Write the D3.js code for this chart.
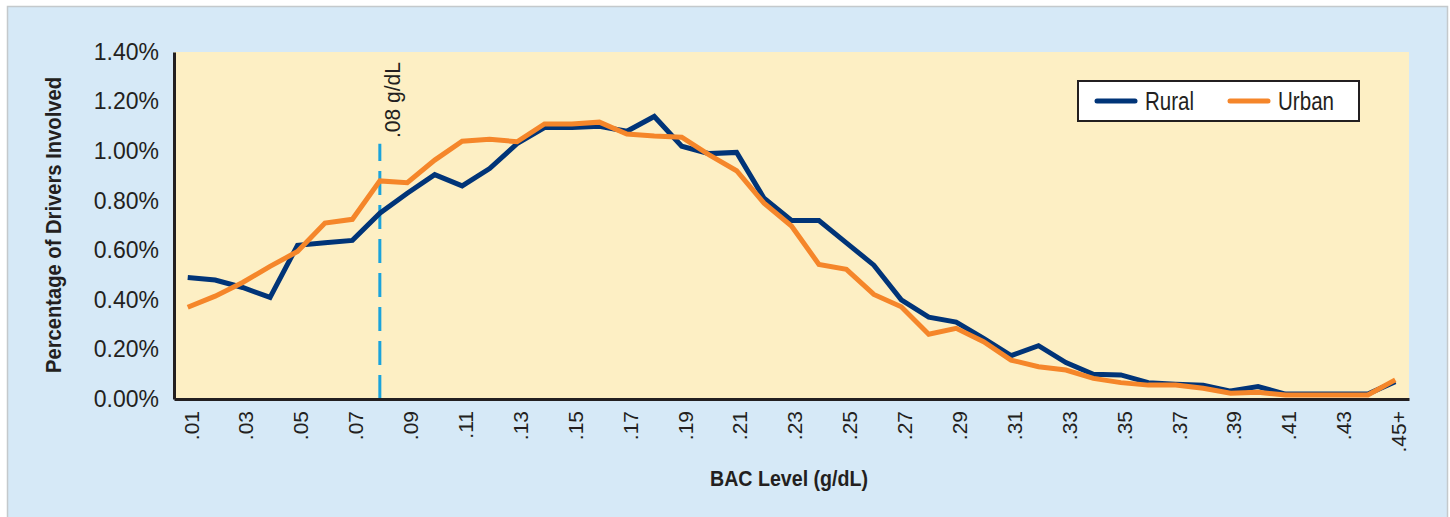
<!DOCTYPE html>
<html>
<head>
<meta charset="utf-8">
<script src="https://cdn.jsdelivr.net/npm/d3@7"></script>
<style>
  body { margin: 0; background: #ffffff; }
  svg { display: block; }
  text { font-family: "Liberation Sans Narrow", "Arial Narrow", "Liberation Sans", sans-serif; fill: #231f20; }
</style>
</head>
<body>
<svg width="1450" height="517"></svg>
<script>
// BAC levels (g/dL)
const categories = [".01",".02",".03",".04",".05",".06",".07",".08",".09",".10",
  ".11",".12",".13",".14",".15",".16",".17",".18",".19",".20",
  ".21",".22",".23",".24",".25",".26",".27",".28",".29",".30",
  ".31",".32",".33",".34",".35",".36",".37",".38",".39",".40",
  ".41",".42",".43",".44",".45+"]

// percentage of drivers involved
const rural = [0.49,0.48,0.45,0.41,0.62,0.63,0.64,0.75,0.83,0.905,
  0.86,0.93,1.03,1.095,1.095,1.10,1.08,1.14,1.02,0.99,
  0.995,0.81,0.72,0.72,0.63,0.54,0.40,0.33,0.31,0.245,
  0.175,0.215,0.147,0.10,0.097,0.066,0.06,0.056,0.032,0.05,
  0.02,0.02,0.02,0.02,0.07]
const urban = [0.37,0.415,0.47,0.535,0.595,0.71,0.725,0.88,0.873,0.964,
  1.04,1.048,1.038,1.11,1.11,1.117,1.069,1.061,1.056,0.985,
  0.921,0.79,0.698,0.543,0.523,0.422,0.372,0.261,0.285,0.231,
  0.157,0.13,0.117,0.083,0.066,0.056,0.056,0.043,0.023,0.027,
  0.016,0.016,0.016,0.016,0.077]

const xTickLabels = [".01",".03",".05",".07",".09",".11",".13",".15",".17",".19",
  ".21",".23",".25",".27",".29",".31",".33",".35",".37",".39",".41",".43",".45+"]
const yTicks = [0, 0.2, 0.4, 0.6, 0.8, 1.0, 1.2, 1.4]
const series = [
  {name: "Rural", values: rural, color: "#003478"},
  {name: "Urban", values: urban, color: "#f5862a"}
]
const limit = ".08"

let svg = d3.select("svg")

// outer panel
svg.append("rect")
  .attr("x", 7.5).attr("y", 6.5)
  .attr("width", 1440).attr("height", 520)
  .attr("fill", "#d6e9f7")
  .attr("stroke", "#c4c9cc")
  .attr("stroke-width", 1.5)

let plotLeft = 174, plotRight = 1409, plotTop = 52, plotBottom = 399

let x = d3.scalePoint().domain(categories).range([plotLeft, plotRight]).padding(0.5)
let y = d3.scaleLinear().domain([0, 1.4]).range([plotBottom, plotTop])

// plot background
svg.append("rect")
  .attr("x", plotLeft).attr("y", plotTop)
  .attr("width", plotRight - plotLeft).attr("height", plotBottom - plotTop)
  .attr("fill", "#fdefc4")

// .08 limit line
svg.append("line")
  .attr("x1", x(limit)).attr("x2", x(limit))
  .attr("y1", y(0)).attr("y2", y(1.03))
  .attr("stroke", "#1aa3dc")
  .attr("stroke-width", 3)
  .attr("stroke-dasharray", "24,10")

svg.append("text")
  .attr("transform", `translate(${x(limit) + 20},${plotTop + 10}) rotate(-90)`)
  .attr("text-anchor", "end")
  .style("font-size", "22px")
  .attr("textLength", 76)
  .attr("lengthAdjust", "spacingAndGlyphs")
  .text(".08 g/dL")

// lines
let line = d3.line()
  .x((d, i) => x(categories[i]))
  .y(d => y(d))

series.forEach(s => {
  svg.append("path")
    .datum(s.values)
    .attr("d", line)
    .attr("fill", "none")
    .attr("stroke", s.color)
    .attr("stroke-width", 5)
    .attr("stroke-linejoin", "miter")
})

// y axis
let yAxis = svg.append("g")
  .attr("transform", `translate(${plotLeft},0)`)
  .call(d3.axisLeft(y).tickValues(yTicks).tickSize(0).tickPadding(15)
    .tickFormat(d => d.toFixed(2) + "%"))
yAxis.select(".domain").attr("stroke", "#231f20").attr("stroke-width", 3)
yAxis.selectAll("text").style("font-size", "23px").attr("fill", "#231f20")

// x axis
let xAxis = svg.append("g")
  .attr("transform", `translate(0,${plotBottom})`)
  .call(d3.axisBottom(x).tickValues(xTickLabels).tickSize(0).tickPadding(0))
xAxis.select(".domain").attr("stroke", "#231f20").attr("stroke-width", 3)
xAxis.selectAll("text")
  .style("font-size", "21px")
  .attr("fill", "#231f20")
  .attr("text-anchor", "end")
  .attr("transform", "rotate(-90)")
  .attr("x", -12)
  .attr("y", 3)
  .attr("dy", "0.35em")

// axis titles
svg.append("text")
  .attr("transform", "translate(61,225) rotate(-90)")
  .attr("text-anchor", "middle")
  .style("font-size", "22px")
  .style("font-weight", "bold")
  .attr("textLength", 296)
  .attr("lengthAdjust", "spacingAndGlyphs")
  .text("Percentage of Drivers Involved")

svg.append("text")
  .attr("x", 789).attr("y", 486)
  .attr("text-anchor", "middle")
  .style("font-size", "22px")
  .style("font-weight", "bold")
  .attr("textLength", 158)
  .attr("lengthAdjust", "spacingAndGlyphs")
  .text("BAC Level (g/dL)")

// legend
let legend = svg.append("g").attr("transform", "translate(1078,81)")
legend.append("rect")
  .attr("width", 281).attr("height", 40)
  .attr("fill", "#ffffff")
  .attr("stroke", "#231f20")
  .attr("stroke-width", 2)

let legendTextWidth = [49, 56]
series.forEach((s, i) => {
  let g = legend.append("g").attr("transform", `translate(${19 + i * 133},20)`)
  g.append("line")
    .attr("x1", 0).attr("x2", 38)
    .attr("stroke", s.color)
    .attr("stroke-width", 5)
    .attr("stroke-linecap", "round")
  g.append("text")
    .attr("x", 48).attr("dy", "0.36em")
    .style("font-size", "25px")
    .attr("textLength", legendTextWidth[i])
    .attr("lengthAdjust", "spacingAndGlyphs")
    .text(s.name)
})
</script>
</body>
</html>
